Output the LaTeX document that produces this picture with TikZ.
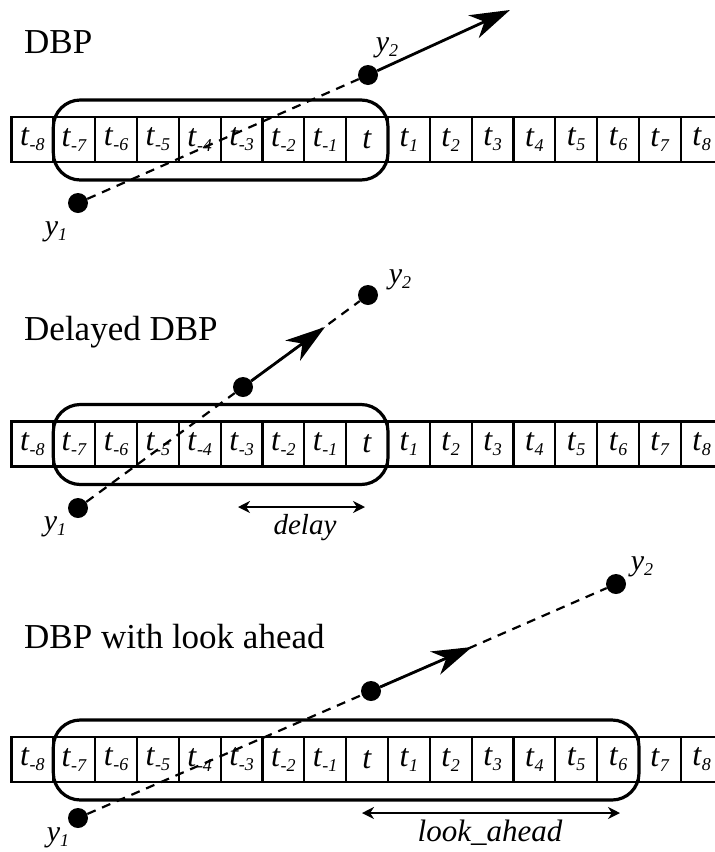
\documentclass[tikz,border=0pt]{standalone}
\usepackage{fontspec}
\setmainfont{Liberation Serif}
\usetikzlibrary{arrows.meta}
\newcommand{\sbx}[2]{\textit{#1}\raisebox{-5pt}{\fontsize{18}{18}\selectfont\textit{#2}}}
\newcommand{\cellrow}[2]{%
  \foreach \s [count=\k from 0] in {-8,-7,...,8} {
    \node[cell] (#1\k) at ({11.5+41.83*(\k+0.5)}, #2) {\ifnum\s=0 \textit{t}\else\sbx{t}{\s}\fi};
  }}
\begin{document}
\begin{tikzpicture}[x=1pt,y=-1pt,
  cell/.style={draw, line width=2.2pt, minimum width=41.83pt, minimum height=45pt, inner sep=0pt, font=\fontsize{32}{32}\selectfont},
  win/.style={draw, line width=3.2pt, rounded corners=27pt, minimum height=80pt, inner sep=0pt},
  dot/.style={circle, fill=black, minimum size=20pt, inner sep=0pt},
  traj/.style={line width=2.2pt, dash pattern=on 9pt off 7pt},
  mv/.style={line width=2.8pt, -{Stealth[length=40pt, width=25pt, inset=12pt]}},
  span/.style={line width=2.8pt, {Stealth[length=12pt,width=12pt]}-{Stealth[length=12pt,width=12pt]}},
  ttl/.style={anchor=base west, inner sep=0pt, font=\fontsize{35}{35}\selectfont},
  lbl/.style={inner sep=0pt, font=\fontsize{30}{30}\selectfont}
]
\useasboundingbox (0,0) rectangle (715,852);

% ---------- panel 1 : DBP ----------
\node[ttl] (t1) at (24,53) {DBP};
\cellrow{p}{139.5}
\node[win, minimum width=334.67pt] (w1) at (220.67,140) {};
\node[dot] (a1) at (78,203) {};
\node[dot] (b1) at (368,75) {};
\coordinate (e1) at (510,10);
\draw[traj] (a1) -- (b1);
\draw[mv] (b1) -- (e1);
\node[lbl] (la1) at (56,232) {\sbx{y}{1}};
\node[lbl] (lb1) at (387,48) {\sbx{y}{2}};

% ---------- panel 2 : Delayed DBP ----------
\node[ttl] (t2) at (24,340) {Delayed DBP};
\cellrow{q}{444}
\node[win, minimum width=334.67pt] (w2) at (220.67,444.5) {};
\node[dot] (a2) at (78,508) {};
\node[dot] (m2) at (243,387) {};
\node[dot] (b2) at (368,295) {};
\coordinate (e2) at (325,327);
\draw[traj] (a2) -- (m2);
\draw[traj] (m2) -- (b2);
\draw[mv] (m2) -- (e2);
\node[lbl] (la2) at (55,527) {\sbx{y}{1}};
\node[lbl] (lb2) at (400,280) {\sbx{y}{2}};
\coordinate (d1) at (238,507);
\coordinate (d2) at (365,507);
\draw[span] (d1) -- (d2);
\node[lbl, font=\fontsize{29}{29}\selectfont\itshape] (dl) at (305,528) {delay};

% ---------- panel 3 : DBP with look ahead ----------
\node[ttl] (t3) at (24,648) {DBP with look ahead};
\cellrow{r}{759.5}
\node[win, minimum width=585.67pt] (w3) at (346.17,760) {};
\node[dot] (a3) at (78,818) {};
\node[dot] (m3) at (371,691) {};
\node[dot] (b3) at (616,584) {};
\coordinate (e3) at (472,647);
\draw[traj] (a3) -- (m3);
\draw[traj] (m3) -- (b3);
\draw[mv] (m3) -- (e3);
\node[lbl] (la3) at (58,838) {\sbx{y}{1}};
\node[lbl] (lb3) at (642,567) {\sbx{y}{2}};
\coordinate (f1) at (362,813);
\coordinate (f2) at (620,813);
\draw[span] (f1) -- (f2);
\node[lbl, font=\fontsize{31}{31}\selectfont\itshape] (la) at (490,833) {look\_ahead};
\end{tikzpicture}
\end{document}
